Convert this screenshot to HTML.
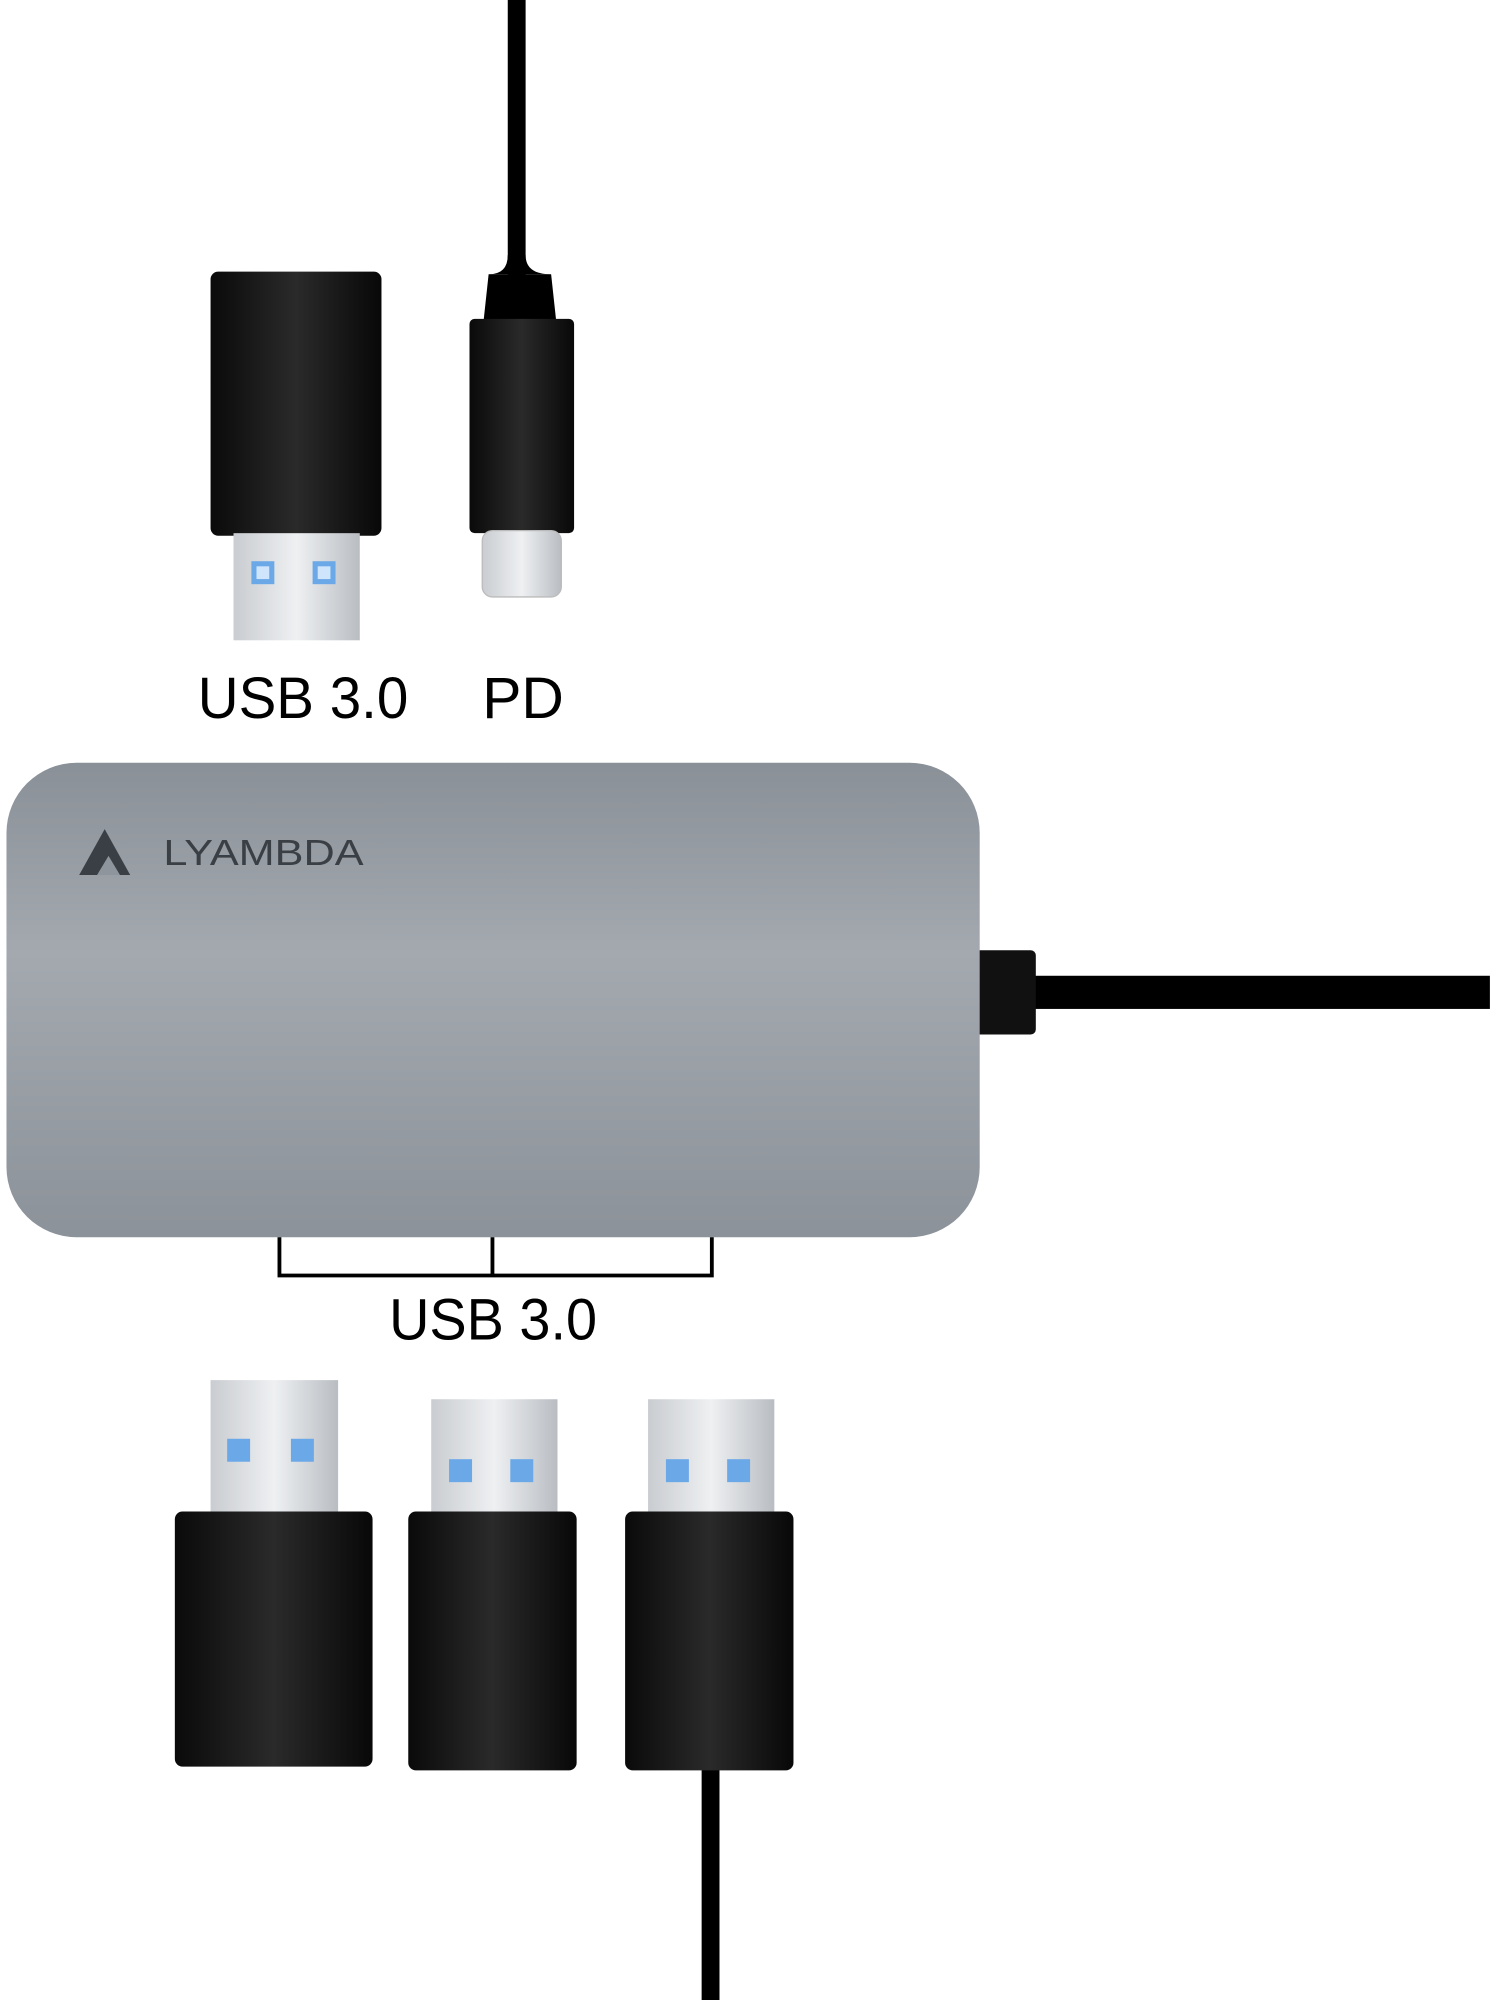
<!DOCTYPE html>
<html><head><meta charset="utf-8"><style>
html,body{margin:0;padding:0;background:#fff;}
svg{display:block;}
</style></head><body>
<svg width="1490" height="2000" viewBox="0 0 1168 1568" xmlns="http://www.w3.org/2000/svg">
<defs>
<linearGradient id="hub" x1="0" y1="0" x2="0" y2="1">
<stop offset="0" stop-color="#8a9097"/><stop offset="0.4" stop-color="#a3a9af"/><stop offset="1" stop-color="#8c9299"/>
</linearGradient>
<linearGradient id="metal" x1="0" y1="0" x2="1" y2="0">
<stop offset="0" stop-color="#c9ccd0"/><stop offset="0.5" stop-color="#eef0f2"/><stop offset="1" stop-color="#b9bdc2"/>
</linearGradient>
<linearGradient id="blk" x1="0" y1="0" x2="1" y2="0">
<stop offset="0" stop-color="#0a0a0a"/><stop offset="0.5" stop-color="#2a2a2a"/><stop offset="1" stop-color="#080808"/>
</linearGradient>
</defs>
<rect x="398" y="0" width="14" height="220" fill="#000"/>
<path d="M398 200 Q398 215 383 215 H432 Q412 215 412 200 Z" fill="#000"/>
<path d="M383 215 H432 L436 252 H379 Z" fill="#000"/>
<rect x="368" y="250" width="82" height="168" rx="4" fill="url(#blk)"/>
<rect x="378" y="416" width="62" height="52" rx="8" fill="url(#metal)" stroke="#bbb"/>
<rect x="165" y="213" width="134" height="207" rx="6" fill="url(#blk)"/>
<rect x="183" y="418" width="99" height="84" fill="url(#metal)"/>
<rect x="197" y="440" width="18" height="18" fill="#6aa8e8"/><rect x="201" y="444" width="10" height="10" fill="#cfe5fb"/>
<rect x="245" y="440" width="18" height="18" fill="#6aa8e8"/><rect x="249" y="444" width="10" height="10" fill="#cfe5fb"/>
<g font-family="Liberation Sans, sans-serif" font-size="46" fill="#000">
<text x="155" y="563" textLength="165" lengthAdjust="spacingAndGlyphs">USB 3.0</text>
<text x="378" y="563" textLength="64" lengthAdjust="spacingAndGlyphs">PD</text>
<text x="305" y="1050" textLength="163" lengthAdjust="spacingAndGlyphs">USB 3.0</text>
</g>
<rect x="800" y="765" width="368" height="26" fill="#000"/>
<rect x="764" y="745" width="48" height="66" rx="4" fill="#111"/>
<rect x="5" y="598" width="763" height="372" rx="55" fill="url(#hub)"/>
<path d="M62 686 L82 650 L102 686 Z" fill="#3a3f45"/><path d="M76 686 L85 671 L94 686 Z" fill="#8e959c"/>
<text x="128" y="678" font-family="Liberation Sans, sans-serif" font-size="28" textLength="157" lengthAdjust="spacingAndGlyphs" fill="#3a3f45">LYAMBDA</text>
<path d="M219 970 V1000 H558 V970 M386 970 V1000" fill="none" stroke="#000" stroke-width="3"/>
<g>
<rect x="165" y="1082" width="100" height="110" fill="url(#metal)"/>
<rect x="178" y="1128" width="18" height="18" fill="#6aa8e8"/><rect x="228" y="1128" width="18" height="18" fill="#6aa8e8"/>
<rect x="137" y="1185" width="155" height="200" rx="6" fill="url(#blk)"/>
</g>
<g>
<rect x="338" y="1097" width="99" height="95" fill="url(#metal)"/>
<rect x="352" y="1144" width="18" height="18" fill="#6aa8e8"/><rect x="400" y="1144" width="18" height="18" fill="#6aa8e8"/>
<rect x="320" y="1185" width="132" height="203" rx="6" fill="url(#blk)"/>
</g>
<g>
<rect x="550" y="1380" width="14" height="188" fill="#000"/>
<rect x="508" y="1097" width="99" height="95" fill="url(#metal)"/>
<rect x="522" y="1144" width="18" height="18" fill="#6aa8e8"/><rect x="570" y="1144" width="18" height="18" fill="#6aa8e8"/>
<rect x="490" y="1185" width="132" height="203" rx="6" fill="url(#blk)"/>
</g>
</svg>
</body></html>
